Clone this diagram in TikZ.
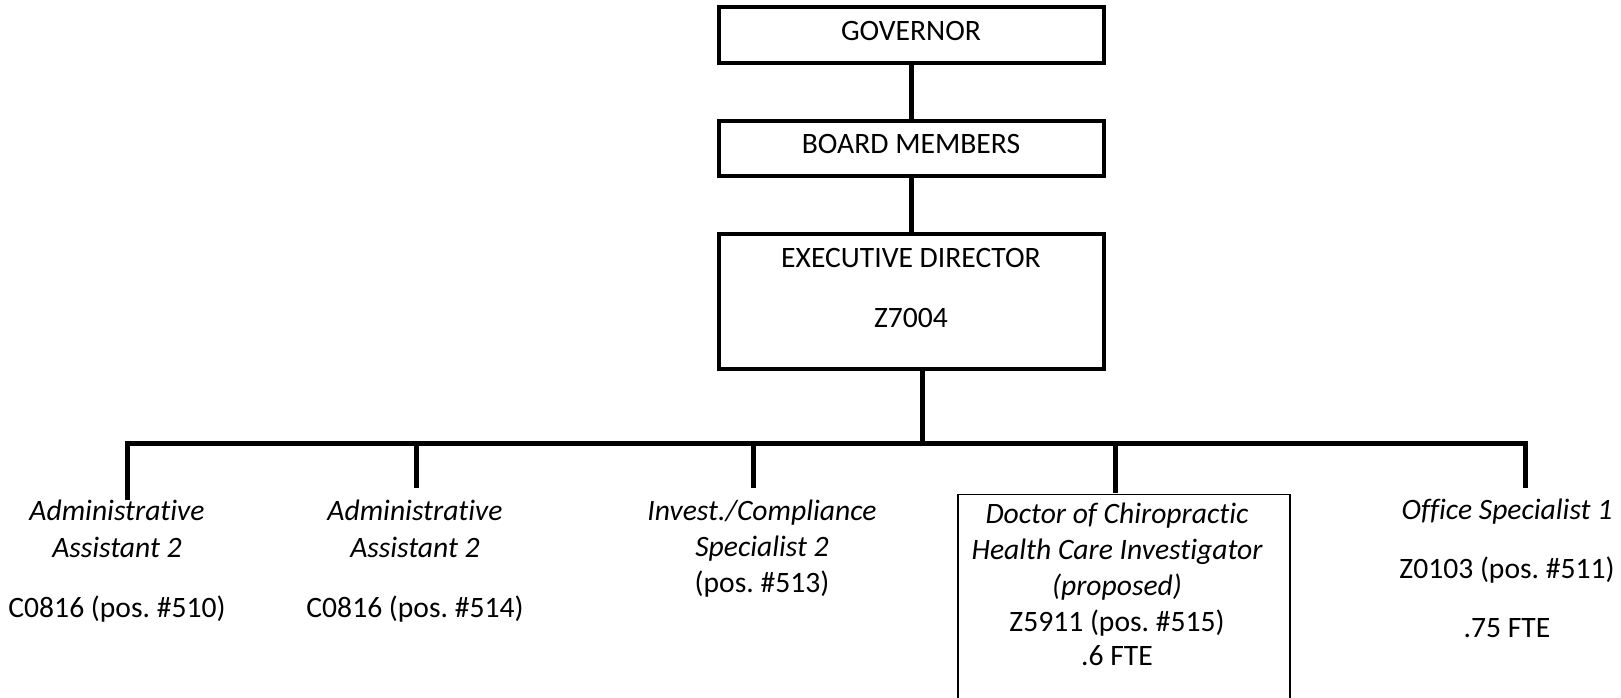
\documentclass[tikz,border=0pt]{standalone}
\usepackage{fontspec}
\setmainfont[Ligatures={NoCommon,NoRequired,NoContextual}]{Carlito}
\frenchspacing
\begin{document}
\begin{tikzpicture}[x=1pt,y=-1pt,
  box/.style={draw, line width=4pt, inner sep=0pt, minimum width=385pt},
  thinbox/.style={draw, line width=1.5pt, inner sep=0pt},
  conn/.style={line width=5pt, line join=miter},
  txt/.style={anchor=base, inner sep=0pt, font=\fontsize{29.6}{35}\selectfont},
  itxt/.style={anchor=base, inner sep=0pt, font=\fontsize{29.6}{35}\selectfont\itshape}]
\useasboundingbox (0,0) rectangle (1621,697);
\fill[white] (0,0) rectangle (1621,697);
\clip (0,0) rectangle (1621,697);

% top boxes
\node[box, minimum height=56pt] (gov) at (911.5,35) {};
\node[box, minimum height=55pt] (board) at (911.5,148.5) {};
\node[box, minimum height=135pt] (exec) at (911.5,301.5) {};
\node[txt] (govt) at (911,40) {GOVERNOR};
\node[txt] (boardt) at (911,153) {BOARD MEMBERS};
\node[txt] (exect) at (911,267) {EXECUTIVE DIRECTOR};
\node[txt] (execc) at (911,327) {Z7004};

% doctor box
\node[thinbox, minimum width=332pt, minimum height=230pt, anchor=north] (dcbox) at (1124,493.5) {};

% bus coordinates
\coordinate (busx) at (922,443);
\coordinate (b1) at (127,443);
\coordinate (b2) at (416,443);
\coordinate (b3) at (753,443);
\coordinate (b4) at (1115,443);
\coordinate (b5) at (1525,443);
\coordinate (d1) at (127,500);
\coordinate (d2) at (416,488);
\coordinate (d3) at (753,488);
\coordinate (d4) at (1115,493);
\coordinate (d5) at (1525,488);

% connectors
\draw[conn] (gov.south) -- (board.north);
\draw[conn] (board.south) -- (exec.north);
\draw[conn] (exec.south -| busx) -- (busx);
\draw[conn] (d1) -- (b1) -- (b5) -- (d5);
\draw[conn] (b2) -- (d2);
\draw[conn] (b3) -- (d3);
\draw[conn] (b4) -- (d4);

% Administrative Assistant 1
\node[itxt] (a1l1) at (117,520) {Administrative};
\node[itxt] (a1l2) at (117,557) {Assistant 2};
\node[txt]  (a1l3) at (117,617) {C0816 (pos. \#510)};

% Administrative Assistant 2
\node[itxt] (a2l1) at (415,520) {Administrative};
\node[itxt] (a2l2) at (415,557) {Assistant 2};
\node[txt]  (a2l3) at (415,617) {C0816 (pos. \#514)};

% Invest./Compliance
\node[itxt] (icl1) at (762,520) {Invest./Compliance};
\node[itxt] (icl2) at (762,556) {Specialist 2};
\node[txt]  (icl3) at (762,592) {(pos. \#513)};

% Doctor of Chiropractic
\node[itxt] (dcl1) at (1117,523) {Doctor of Chiropractic};
\node[itxt] (dcl2) at (1117,559) {Health Care Investigator};
\node[itxt] (dcl3) at (1117,595) {(proposed)};
\node[txt]  (dcl4) at (1117,631) {Z5911 (pos. \#515)};
\node[txt]  (dcl5) at (1117,665) {.6 FTE};

% Office Specialist
\node[itxt] (osl1) at (1507,519) {Office Specialist 1};
\node[txt]  (osl2) at (1507,578) {Z0103 (pos. \#511)};
\node[txt]  (osl3) at (1507,637) {.75 FTE};
\end{tikzpicture}
\end{document}
